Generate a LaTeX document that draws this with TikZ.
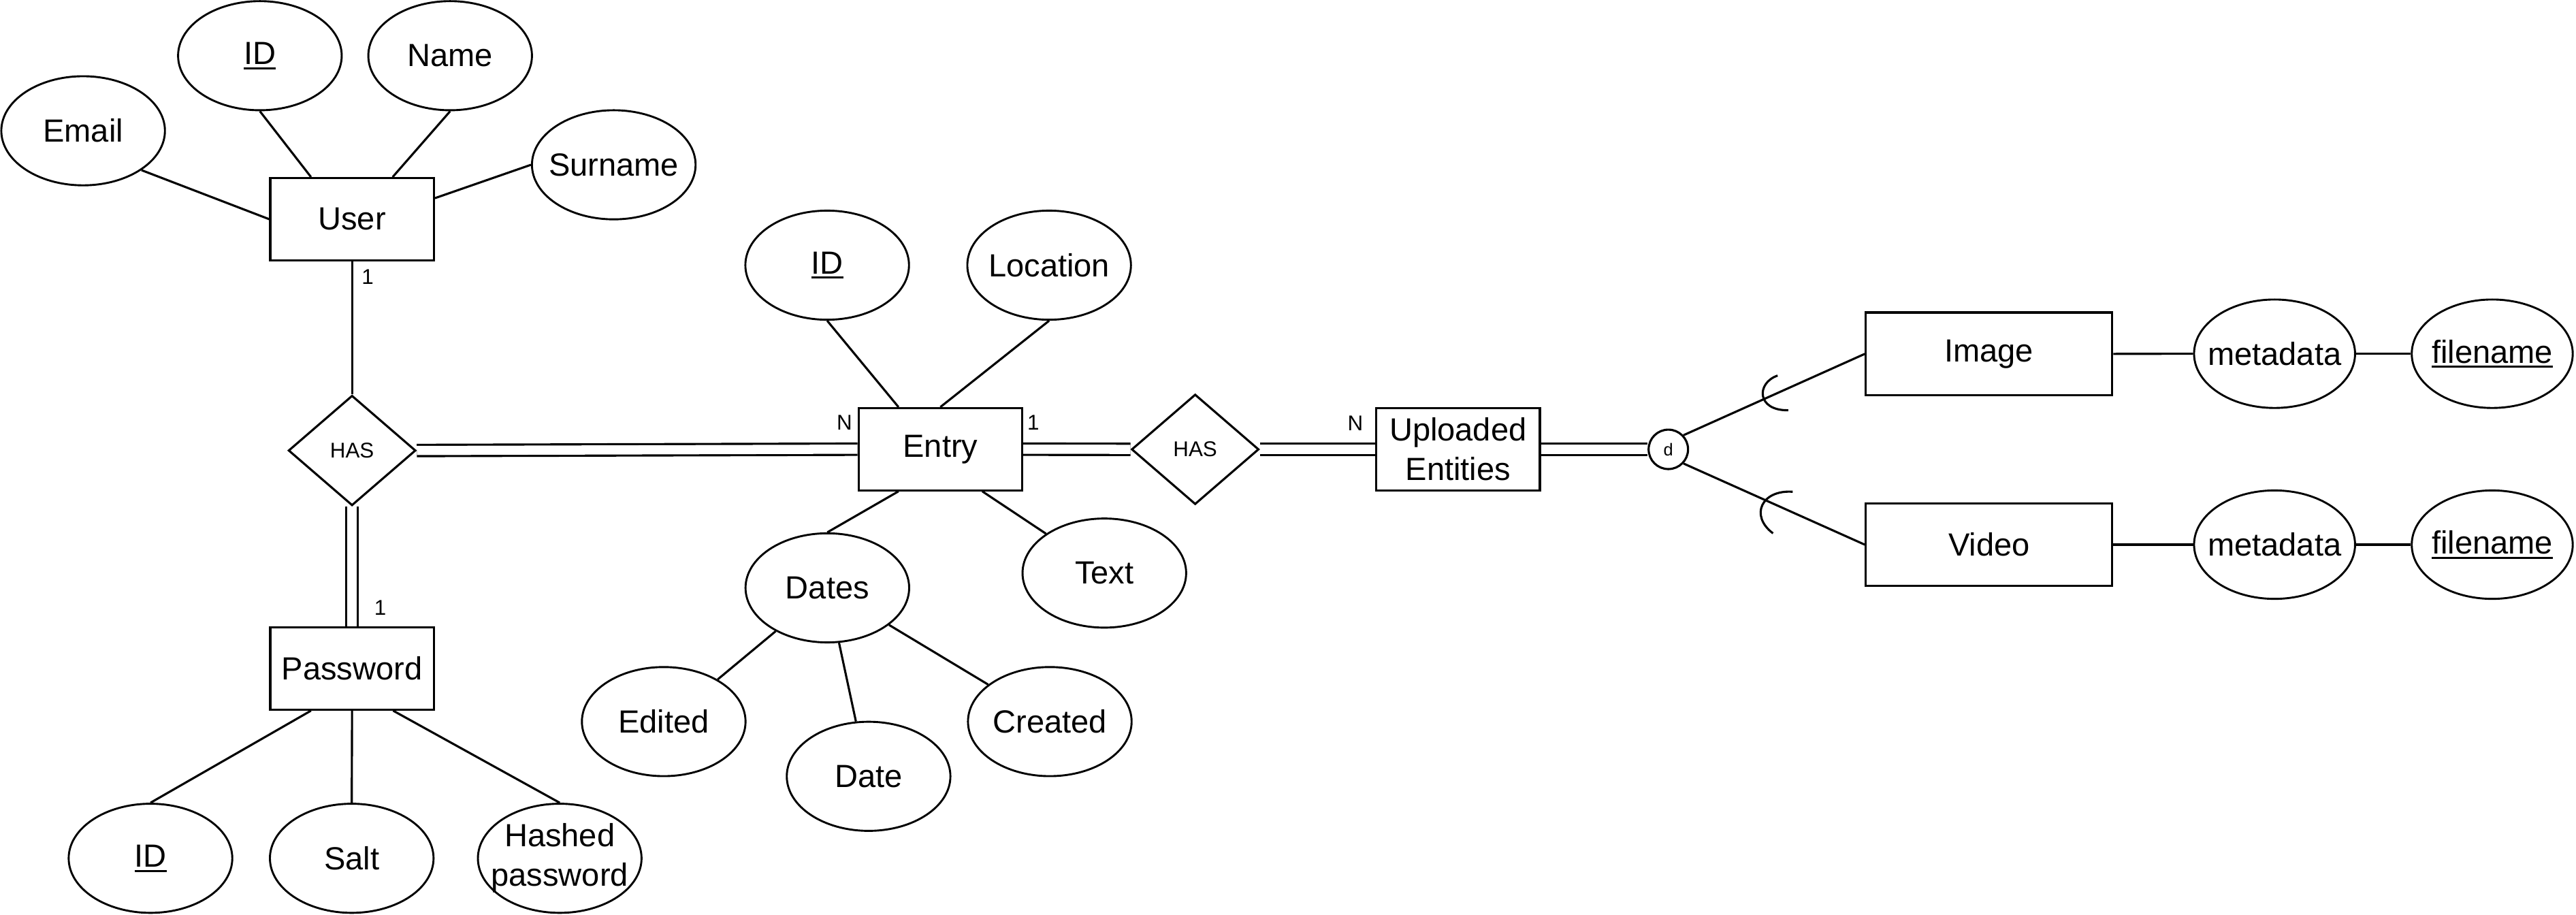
\documentclass[tikz,border=0pt]{standalone}
\usepackage{fontspec}
\setmainfont{Liberation Sans}
\usetikzlibrary{shapes.geometric}
\newcommand\mainf{\fontsize{19.5}{24}\selectfont}
\newcommand\smallf{\fontsize{13}{15}\selectfont}
\newcommand\tinyf{\fontsize{10.5}{12}\selectfont}
\newcommand\keyul[1]{\setbox0\hbox{#1}\rlap{\box0}\setbox0\hbox{#1}\rule[-3pt]{\wd0}{1.2pt}}
\tikzset{
  ent/.style={draw, line width=1.3pt, rectangle, minimum width=99.6pt, minimum height=50pt, inner sep=0pt, font=\mainf, align=center},
  attr/.style={draw, line width=1.2pt, ellipse, minimum width=99.6pt, minimum height=66.4pt, inner ysep=0pt, inner xsep=-28pt, font=\mainf, align=center},
  rel/.style={draw, line width=1.3pt, diamond, minimum width=77.5pt, minimum height=67pt, inner sep=0pt, font=\smallf},
  card/.style={font=\smallf, inner sep=0pt},
  conn/.style={line width=1.3pt},
  dbl/.style={line width=1.3pt, double, double distance=5.6pt},
}
\begin{document}
\begin{tikzpicture}[x=1pt,y=-1pt]
\useasboundingbox (0,0) rectangle (1568,556.9);
% User
\node[ent] (user) at (214.3,133.4) {User};
\node[attr] (email) at (50.6,79.6) {Email};
\node[attr] (uid) at (158.2,33.9) {\keyul{ID}};
\node[attr] (name) at (274,33.9) {Name};
\node[attr] (surname) at (373.6,100.3) {Surname};
\draw[conn] (email.-34) -- (user.west);
\draw[conn] (uid.south) -- ([xshift=-25pt]user.north);
\draw[conn] (name.south) -- ([xshift=24.7pt]user.north);
\draw[conn] (surname.west) -- ([yshift=12.8pt]user.east);
% HAS 1
\node[rel] (has1) at (214.3,274.2) {HAS};
\draw[conn] (user.south) -- (has1.north);
\node[card] (c1) at (223.8,168.5) {1};
% Password
\node[ent] (pwd) at (214.3,406.9) {Password};
\draw[dbl] (has1.south) -- (pwd.north);
\node[card] (c2) at (231.5,370.1) {1};
\node[attr] (pid) at (91.6,522.4) {\keyul{ID}};
\node[attr] (salt) at (214.1,522.4) {Salt};
\node[attr] (hash) at (340.7,522.4) {Hashed\\password};
\draw[conn] ([xshift=-25pt]pwd.south) -- (pid.north);
\draw[conn] (pwd.south) -- (salt.north);
\draw[conn] ([xshift=25pt]pwd.south) -- (hash.north);
% Entry
\node[ent] (entry) at (572.4,273.4) {Entry};
\draw[dbl] (has1.east) -- (entry.west);
\node[card] (c3) at (514,257) {N};
\node[card] (c4) at (629,257) {1};
\node[attr] (eid) at (503.5,161.4) {\keyul{ID}};
\node[attr] (loc) at (638.6,161.4) {Location};
\draw[conn] (eid.south) -- ([xshift=-25.5pt]entry.north);
\draw[conn] (loc.south) -- (entry.north);
\node[attr] (dates) at (503.6,357.8) {Dates};
\node[attr] (text) at (672.2,348.8) {Text};
\draw[conn] ([xshift=-25.5pt]entry.south) -- (dates.north);
\draw[conn] ([xshift=25.5pt]entry.south) -- (text.146);
\node[attr] (edited) at (404,439.2) {Edited};
\node[attr] (date) at (528.7,472.5) {Date};
\node[attr] (created) at (639,439.2) {Created};
\draw[conn] (dates.-140) -- (edited.38);
\draw[conn] (dates.-78) -- (date.103);
\draw[conn] (dates.-31) -- (created.149);
% HAS 2
\node[rel] (has2) at (727.5,273.5) {HAS};
\draw[dbl] (entry.east) -- (has2.west);
\node[ent] (ue) at (887.5,273.5) {Uploaded\\Entities};
\draw[dbl] (has2.east) -- (ue.west);
\node[card] (c5) at (825,257.7) {N};
% disjoint
\node[draw, circle, line width=1.3pt, minimum size=24pt, inner sep=0pt, font=\tinyf] (d) at (1015.5,273.5) {d};
\draw[dbl] (ue.east) -- (d.west);
\node[ent, minimum width=150pt, minimum height=50.4pt] (image) at (1210.7,215.4) {Image};
\node[ent, minimum width=150pt, minimum height=50.4pt] (video) at (1210.7,331.5) {Video};
\draw[conn] (d.43) -- (image.west);
\draw[conn] (d.-43) -- (video.west);
\draw[conn] (1082,228.6) .. controls (1069,233) and (1069,250) .. (1088.5,249.7);
\draw[conn] (1091.2,299.3) .. controls (1072,298) and (1065,314) .. (1079.2,324.6);
\node[attr, minimum width=98pt, minimum height=66pt] (meta1) at (1384.5,215.3) {metadata};
\node[attr, minimum width=98pt, minimum height=66pt] (fn1) at (1517,215.3) {\keyul{filename}};
\node[attr, minimum width=98pt, minimum height=66pt] (meta2) at (1384.5,331.5) {metadata};
\node[attr, minimum width=98pt, minimum height=66pt] (fn2) at (1517,331.5) {\keyul{filename}};
\draw[conn] (image.east) -- (meta1.west);
\draw[conn] (meta1.east) -- (fn1.west);
\draw[conn] (video.east) -- (meta2.west);
\draw[conn] (meta2.east) -- (fn2.west);
\end{tikzpicture}
\end{document}
